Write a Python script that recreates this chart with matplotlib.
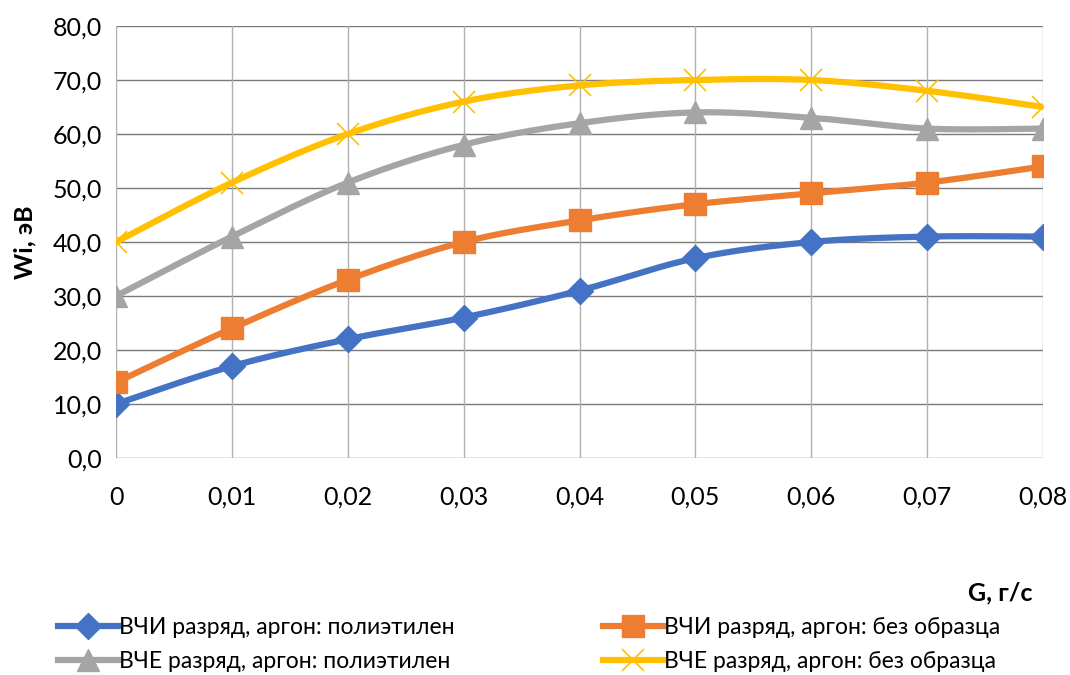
import matplotlib
matplotlib.use("Agg")
import matplotlib.pyplot as plt
import numpy as np
from matplotlib.lines import Line2D

plt.rcParams['font.family'] = ['Lato', 'DejaVu Sans']

x_vals = [0, 0.01, 0.02, 0.03, 0.04, 0.05, 0.06, 0.07, 0.08]
x_labels = ["0", "0,01", "0,02", "0,03", "0,04", "0,05", "0,06", "0,07", "0,08"]
vchi_pe = [10, 17, 22, 26, 31, 37, 40, 41, 41]
vchi_none = [14, 24, 33, 40, 44, 47, 49, 51, 54]
vche_pe = [30, 41, 51, 58, 62, 64, 63, 61, 61]
vche_none = [40, 51, 60, 66, 69, 70, 70, 68, 65]
names = ["ВЧИ разряд, аргон: полиэтилен", "ВЧИ разряд, аргон: без образца",
         "ВЧЕ разряд, аргон: полиэтилен", "ВЧЕ разряд, аргон: без образца"]
y_ticks = [0, 10, 20, 30, 40, 50, 60, 70, 80]

series = [
    (vchi_pe, '#4472C4', 'D', 13, 'full'),
    (vchi_none, '#ED7D31', 's', 16, 'full'),
    (vche_pe, '#A5A5A5', '^', 16, 'full'),
    (vche_none, '#FFC000', 'x', 16, 'x'),
]

FS = 18

fig = plt.figure(figsize=(10.7, 6.75), dpi=100)
ax = fig.add_axes([116/1070, 1-458/675, (1043-116)/1070, (458-26)/675])
ax.set_xlim(0, 0.08)
ax.set_ylim(0, 80)
for s in ax.spines.values():
    s.set_visible(False)
ax.set_yticks(y_ticks)
ax.set_yticklabels([f"{v},0" for v in y_ticks], fontsize=FS)
ax.set_xticks(x_vals)
ax.set_xticklabels(x_labels, fontsize=FS)
ax.tick_params(length=0, pad=10)
ax.tick_params(axis='x', pad=20)
for yv in y_ticks:
    ax.axhline(yv, color='#7a7a7a', lw=1.0, zorder=1)
for xv in x_vals:
    ax.axvline(xv, color='#b0b0b0', lw=1.0, zorder=1)

fig.canvas.draw()

def smooth(xs, ys):
    pts = ax.transData.transform(np.column_stack([xs, ys]))
    n = len(pts)
    out = [pts[0]]
    t = np.linspace(0, 1, 30)[1:]
    for i in range(n - 1):
        p0 = pts[i - 1] if i > 0 else pts[i]
        p1 = pts[i]
        p2 = pts[i + 1]
        p3 = pts[i + 2] if i + 2 < n else pts[i + 1]
        c1 = p1 + (p2 - p0) / 6
        c2 = p2 - (p3 - p1) / 6
        for tt in t:
            b = ((1-tt)**3)*p1 + 3*((1-tt)**2)*tt*c1 + 3*(1-tt)*tt**2*c2 + tt**3*p2
            out.append(b)
    out = np.array(out)
    return ax.transData.inverted().transform(out)

handles = []
for (ys, c, m, ms, kind), name in zip(series, names):
    sm = smooth(x_vals, ys)
    ax.plot(sm[:, 0], sm[:, 1], color=c, lw=4.5, zorder=3, solid_capstyle='round')
    if kind == 'x':
        ax.plot(x_vals, ys, ls='none', marker='x', ms=ms, mew=1.2, color=c, zorder=4)
        h = Line2D([], [], color=c, lw=4.5, marker='x', ms=ms, mew=1.2)
    else:
        ax.plot(x_vals, ys, ls='none', marker=m, ms=ms, color=c, mec=c, zorder=4)
        h = Line2D([], [], color=c, lw=4.5, marker=m, ms=ms, mec=c)
    handles.append(h)

fig.text(25/1070, 1-242/675, "Wi, эВ", rotation=90, fontsize=FS, fontweight='bold',
         ha='center', va='center')
fig.text(1033/1070, 1-593/675, "G, г/с", fontsize=FS, fontweight='bold',
         ha='right', va='center')

order = [0, 2, 1, 3]
leg = fig.legend([handles[i] for i in order], [names[i] for i in order], ncol=2,
                 loc='upper left',
                 bbox_to_anchor=(58/1070, 1-617/675), frameon=False,
                 fontsize=16.5, handlelength=2.6, handletextpad=0.05,
                 columnspacing=6.5, labelspacing=0.58, borderaxespad=0, borderpad=0)

fig.savefig("out.png", dpi=100)
